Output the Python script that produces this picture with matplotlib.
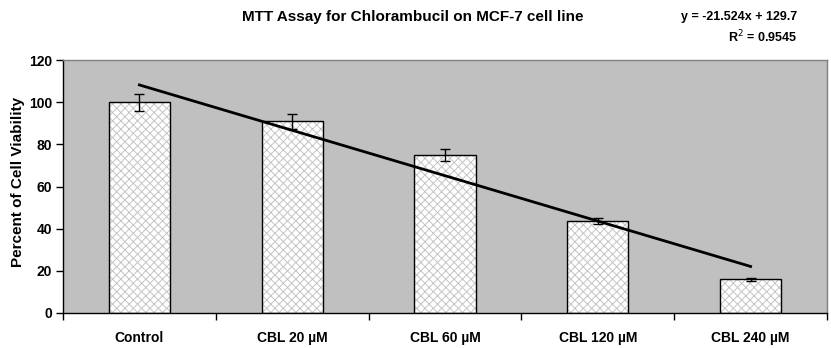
import matplotlib
matplotlib.use("Agg")
import matplotlib.pyplot as plt
import numpy as np

categories = ["Control", "CBL 20 µM", "CBL 60 µM", "CBL 120 µM", "CBL 240 µM"]
viability = [100, 90.9, 74.8, 43.5, 16.0]
errors = [4.0, 3.4, 2.8, 1.5, 0.7]
slope = -21.524
intercept = 129.7
r2 = 0.9545
yticks = [0, 20, 40, 60, 80, 100, 120]

plt.rcParams['font.family'] = ['Liberation Sans', 'DejaVu Sans']
plt.rcParams['hatch.linewidth'] = 0.7

fig = plt.figure(figsize=(8.31, 3.48), dpi=100)
ax = fig.add_axes([63/831, 35/348, (827-63)/831, (313-60)/348])
ax.set_facecolor('#c0c0c0')

x = np.arange(len(categories))
# hatched fill
ax.bar(x, viability, width=0.4, color='white', edgecolor='#c4c4c4',
       hatch='xxxx', linewidth=0, zorder=2)
# black outline
ax.bar(x, viability, width=0.4, color='none', edgecolor='black',
       linewidth=1.0, zorder=3)
ax.errorbar(x, viability, yerr=errors, fmt='none', ecolor='black',
            elinewidth=1.0, capsize=3.5, capthick=1.0, zorder=4)

# linear trend line (x = 1..5)
xs = np.array([1, len(categories)])
ax.plot(xs - 1, slope * xs + intercept, color='black', lw=2, zorder=5)

ax.set_xlim(-0.5, len(categories) - 0.5)
ax.set_ylim(0, 120)
ax.set_yticks(yticks)
ax.set_yticklabels([str(t) for t in yticks], fontweight='bold', fontsize=10)
ax.set_xticks(x)
ax.set_xticklabels(categories, fontweight='bold', fontsize=10)
ax.tick_params(axis='x', which='major', length=0, pad=13)
ax.set_xticks(np.arange(-0.5, len(categories)), minor=True)
ax.tick_params(axis='x', which='minor', length=5, width=1, direction='out')
ax.tick_params(axis='y', length=5, width=1, direction='out', pad=3)

for s in ['top', 'right']:
    ax.spines[s].set_color('#808080')
    ax.spines[s].set_linewidth(1)
for s in ['left', 'bottom']:
    ax.spines[s].set_color('black')
    ax.spines[s].set_linewidth(1)

fig.text(18/831, 1 - 182/348, 'Percent of Cell Viability', rotation=90,
         ha='center', va='center', fontweight='bold', fontsize=11)

fig.text(413/831, 1 - 17/348, 'MTT Assay for Chlorambucil on MCF-7 cell line',
         ha='center', va='center', fontweight='bold', fontsize=11)
fig.text(797/831, 1 - 17/348, f'y = {slope}x + {intercept}', ha='right',
         va='center', fontweight='bold', fontsize=9)
fig.text(797/831, 1 - 37/348, f'R$^2$ = {r2}', ha='right',
         va='center', fontweight='bold', fontsize=9)

fig.savefig('out.png', dpi=100, facecolor='white')
